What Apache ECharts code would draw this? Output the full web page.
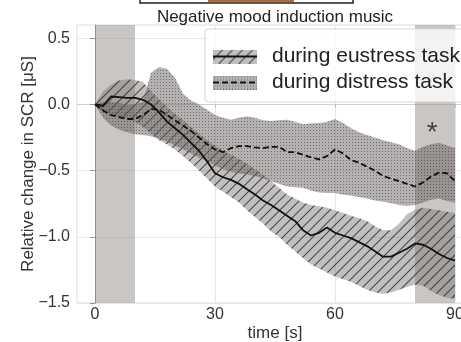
<!DOCTYPE html>
<html><head><meta charset="utf-8">
<script src="https://cdn.jsdelivr.net/npm/echarts@6/dist/echarts.min.js"></script>
<style>html,body{margin:0;padding:0;background:#fff}#c{width:461px;height:342px}</style>
</head><body><div id="c"></div>
<script>
// ---- data (time in s, values in µS) ----
const time = [0,2,4,6,8,10,12,14,16,18,20,22,24,26,28,30,32,34,36,38,40,42,44,46,48,50,52,54,56,58,60,62,64,66,68,70,72,74,76,78,80,82,84,86,88,90];
// eustress: mean, upper, lower
const euMean = [0,-0.01,0.06,0.055,0.05,0.05,0.035,0,-0.06,-0.13,-0.18,-0.23,-0.29,-0.35,-0.43,-0.52,-0.55,-0.57,-0.60,-0.64,-0.68,-0.725,-0.76,-0.80,-0.84,-0.88,-0.95,-0.99,-0.97,-0.93,-0.97,-0.99,-1.01,-1.04,-1.07,-1.11,-1.15,-1.15,-1.12,-1.09,-1.05,-1.06,-1.09,-1.13,-1.16,-1.18];
const euUpper = [0,0.10,0.15,0.18,0.19,0.185,0.17,0.10,0.04,-0.02,-0.07,-0.12,-0.17,-0.22,-0.27,-0.31,-0.35,-0.38,-0.41,-0.45,-0.49,-0.53,-0.58,-0.63,-0.68,-0.71,-0.74,-0.76,-0.77,-0.78,-0.80,-0.82,-0.84,-0.86,-0.88,-0.92,-0.95,-0.95,-0.90,-0.83,-0.795,-0.78,-0.79,-0.80,-0.81,-0.82];
const euLower = [0,-0.055,-0.08,-0.095,-0.11,-0.13,-0.17,-0.22,-0.27,-0.30,-0.34,-0.39,-0.44,-0.50,-0.56,-0.62,-0.66,-0.70,-0.74,-0.80,-0.85,-0.90,-0.96,-1.00,-1.06,-1.11,-1.16,-1.21,-1.24,-1.27,-1.30,-1.32,-1.34,-1.37,-1.40,-1.42,-1.43,-1.42,-1.40,-1.38,-1.36,-1.37,-1.41,-1.44,-1.46,-1.47];
// distress: mean, upper, lower
const diMean = [0,-0.045,-0.08,-0.095,-0.11,-0.11,-0.08,-0.035,-0.04,-0.08,-0.12,-0.16,-0.20,-0.25,-0.30,-0.34,-0.36,-0.33,-0.315,-0.315,-0.325,-0.33,-0.32,-0.32,-0.36,-0.36,-0.38,-0.40,-0.415,-0.39,-0.34,-0.37,-0.42,-0.44,-0.47,-0.50,-0.54,-0.56,-0.58,-0.60,-0.62,-0.59,-0.545,-0.515,-0.52,-0.58];
const diUpper = [0,0.02,0.02,0.01,0,0,0.02,0.24,0.28,0.27,0.20,0.08,0.03,0,-0.04,-0.08,-0.10,-0.115,-0.10,-0.09,-0.10,-0.12,-0.125,-0.12,-0.115,-0.13,-0.15,-0.145,-0.14,-0.13,-0.11,-0.14,-0.18,-0.21,-0.23,-0.25,-0.27,-0.285,-0.30,-0.33,-0.35,-0.32,-0.30,-0.29,-0.31,-0.33];
const diLower = [0,-0.10,-0.16,-0.19,-0.21,-0.225,-0.23,-0.24,-0.26,-0.28,-0.31,-0.34,-0.37,-0.40,-0.43,-0.46,-0.49,-0.51,-0.52,-0.53,-0.54,-0.56,-0.58,-0.60,-0.62,-0.625,-0.63,-0.65,-0.665,-0.67,-0.67,-0.68,-0.69,-0.70,-0.71,-0.725,-0.735,-0.745,-0.76,-0.765,-0.76,-0.74,-0.72,-0.71,-0.73,-0.74];
const seriesNames = ['during eustress task','during distress task'];
const xTicks = [0,30,60,90];
const yTicks = [-1.5,-1.0,-0.5,0.0,0.5];
const shadeIntervals = [[0,10],[80,90]];
const sigMarks = [[84.3,-0.22]];
const titleText = 'Negative mood induction music';
const xName = 'time [s]';
const yName = 'Relative change in SCR [μS]';

// ---- patterns ----
const FONT = '"Liberation Sans", Arial, sans-serif';
function makeHatch(){
  const c=document.createElement('canvas'); c.width=10; c.height=10;
  const g=c.getContext('2d');
  g.fillStyle='rgba(120,116,114,0.45)'; g.fillRect(0,0,10,10);
  g.strokeStyle='rgba(50,50,50,0.85)'; g.lineWidth=1.1;
  g.beginPath(); g.moveTo(-2,12); g.lineTo(12,-2); g.moveTo(-2,2); g.lineTo(2,-2); g.moveTo(8,12); g.lineTo(12,8); g.stroke();
  return c;
}
function makeDots(){
  const c=document.createElement('canvas'); c.width=3; c.height=3;
  const g=c.getContext('2d');
  g.fillStyle='rgba(105,100,98,0.5)'; g.fillRect(0,0,3,3);
  g.fillStyle='rgba(45,45,45,0.5)'; g.fillRect(1,1,1,1);
  return c;
}
const hatch = makeHatch(), dots = makeDots();
function legendIcon(pat, dashed){
  const c=document.createElement('canvas'); c.width=54; c.height=14;
  const g=c.getContext('2d');
  g.fillStyle=g.createPattern(pat,'repeat'); g.fillRect(0,0,44,14);
  g.strokeStyle='#111'; g.lineWidth=2;
  if(dashed) g.setLineDash([6,3]);
  g.beginPath(); g.moveTo(0,7); g.lineTo(44,7); g.stroke();
  return 'image://'+c.toDataURL();
}

const pair = (a)=>time.map((t,i)=>[t,a[i]]);
const band = (l,u)=>time.map((t,i)=>[t,l[i],u[i]]);
const fmt = v => (v<0?'\u2212':'')+Math.abs(v).toFixed(1);

function bandSeries(name, l, u, pattern){
  const data = band(l,u);
  return {type:'custom', name:name, data:data, silent:true, z:2, clip:true,
    encode:{x:0, y:[1,2]},
    renderItem:function(params, api){
      if(params.dataIndex !== 0) return null;
      const top = data.map(d=>api.coord([d[0], d[2]]));
      const bot = data.map(d=>api.coord([d[0], d[1]])).reverse();
      return {type:'polygon', shape:{points:top.concat(bot)}, style:{fill:{image:pattern, repeat:'repeat'}, stroke:null}, silent:true};
    }};
}

const chart = echarts.init(document.getElementById('c'), null, {renderer:'canvas'});
chart.setOption({
  animation:false,
  textStyle:{fontFamily:FONT},
  title:{text:titleText, left:275, top:9, textAlign:'center', padding:0,
    textStyle:{fontSize:17, fontWeight:'normal', color:'#222', fontFamily:FONT}},
  graphic:[
    {type:'rect', shape:{x:140,y:-10,width:213,height:13}, style:{fill:'#fff', stroke:'#222', lineWidth:1.5}, silent:true},
    {type:'rect', shape:{x:208,y:-10,width:86,height:12}, style:{fill:'#b86a2e'}, silent:true}
  ],
  grid:{left:77, top:25, width:396, height:278, show:true, borderColor:'#dcdcdc', borderWidth:1, outerBoundsMode:'none', containLabel:false},
  legend:{orient:'vertical', left:205, top:29, padding:[17,10,9,8], itemGap:5, itemWidth:54, itemHeight:14,
    backgroundColor:'rgba(255,255,255,0.8)', borderColor:'#d5d5d5', borderWidth:1, borderRadius:3,
    textStyle:{fontSize:21, color:'#222', fontFamily:FONT},
    data:[{name:seriesNames[0], icon:legendIcon(hatch,false)},{name:seriesNames[1], icon:legendIcon(dots,true)}]},
  xAxis:{type:'value', min:-4.5, max:94.5,
    axisLine:{show:true, lineStyle:{color:'#cfcfcf'}},
    axisTick:{show:true, customValues:xTicks, length:3, lineStyle:{color:'#bbb'}},
    axisLabel:{customValues:xTicks, fontSize:16, color:'#333', margin:4, fontFamily:FONT},
    splitLine:{show:true, lineStyle:{color:'#e6e6e6'}},
    name:xName, nameLocation:'middle', nameGap:22, nameMoveOverlap:false, nameTextStyle:{fontSize:17, color:'#333', fontFamily:FONT}},
  yAxis:{type:'value', min:-1.5, max:0.6,
    axisLine:{show:true, lineStyle:{color:'#8a8a8a'}},
    axisTick:{show:true, customValues:yTicks, length:5, lineStyle:{color:'#999'}},
    axisLabel:{customValues:yTicks, formatter:fmt, fontSize:16, color:'#333', margin:7, fontFamily:FONT},
    splitLine:{show:true, lineStyle:{color:'#e6e6e6'}},
    name:yName, nameLocation:'middle', nameGap:40, nameMoveOverlap:false, nameTextStyle:{fontSize:17, color:'#333', fontFamily:FONT}},
  series:[
    {type:'line', name:'shade', data:[], symbol:'none', silent:true, z:1,
      markArea:{silent:true, itemStyle:{color:'rgba(150,142,138,0.5)'},
        data:shadeIntervals.map(([a,b])=>[{xAxis:a},{xAxis:b}])}},
    bandSeries('eu-band', euLower, euUpper, hatch),
    bandSeries('di-band', diLower, diUpper, dots),
    {type:'line', name:seriesNames[0], data:pair(euMean), symbol:'none', silent:true,
      lineStyle:{color:'#111', width:1.8}, itemStyle:{color:'#111'}, z:3},
    {type:'line', name:seriesNames[1], data:pair(diMean), symbol:'none', silent:true,
      lineStyle:{color:'#111', width:1.8, type:[6,3]}, itemStyle:{color:'#111'}, z:3},
    {type:'scatter', name:'sig', data:sigMarks, symbolSize:1, silent:true, itemStyle:{color:'rgba(0,0,0,0)'}, z:4,
      label:{show:true, formatter:'*', position:'inside', fontSize:28, color:'#222', fontFamily:FONT}}
  ]
});
</script></body></html>
